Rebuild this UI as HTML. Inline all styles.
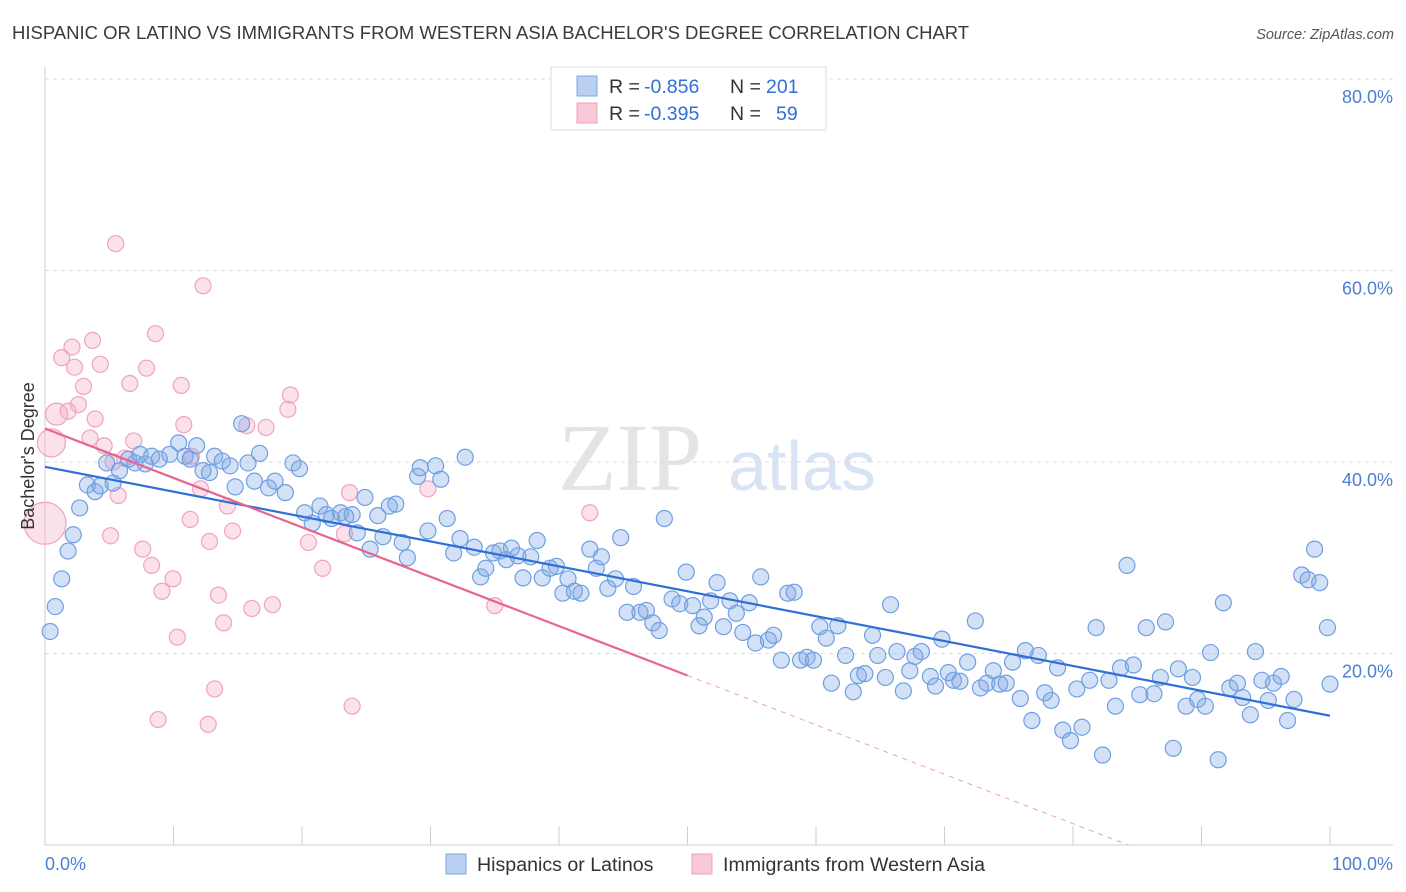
<!DOCTYPE html>
<html><head><meta charset="utf-8"><style>
body{margin:0;background:#fff;font-family:"Liberation Sans",sans-serif;}
svg{display:block}
</style></head><body>
<svg id="chart" width="1406" height="892" xmlns="http://www.w3.org/2000/svg">
<text x="12" y="39" font-size="18.5" fill="#3a3a3a">HISPANIC OR LATINO VS IMMIGRANTS FROM WESTERN ASIA BACHELOR'S DEGREE CORRELATION CHART</text>
<text x="1394" y="39" font-size="14.5" fill="#555" font-style="italic" text-anchor="end">Source: ZipAtlas.com</text>
<text x="630" y="490" font-size="96" fill="#e4e4e4" font-family="Liberation Serif,serif" text-anchor="middle">ZIP</text>
<text x="802" y="490" font-size="70" fill="#d8e4f4" text-anchor="middle">atlas</text>
<g id="grid"></g>
<g id="pinkpts"></g>
<g id="bluepts"></g>
<g id="lines"></g>
<text transform="translate(34,456) rotate(-90)" font-size="18" fill="#333" text-anchor="middle">Bachelor's Degree</text>
<text x="45" y="870" font-size="18" fill="#4a7fd6">0.0%</text>
<text x="1393" y="870" font-size="18" fill="#4a7fd6" text-anchor="end">100.0%</text>
<g>
<rect x="551" y="67" width="275" height="63" fill="#fff" stroke="#ddd"/>
<rect x="577" y="76" width="20" height="20" fill="#b9d0f2" stroke="#7ea6e3"/>
<rect x="577" y="103" width="20" height="20" fill="#f9c9d8" stroke="#f0a0bc"/>
<g font-size="19.5">
<text x="609" y="93" fill="#333">R =</text><text x="644" y="93" fill="#2f6fd6">-0.856</text>
<text x="730" y="93" fill="#333">N =</text><text x="766" y="93" fill="#2f6fd6">201</text></g>
<g font-size="19.5">
<text x="609" y="120" fill="#333">R =</text><text x="644" y="120" fill="#2f6fd6">-0.395</text>
<text x="730" y="120" fill="#333">N =</text><text x="776" y="120" fill="#2f6fd6">59</text></g>
</g>
<g>
<rect x="446" y="854" width="20" height="20" fill="#b9d0f2" stroke="#7ea6e3"/>
<text x="477" y="871" font-size="19.6" fill="#333">Hispanics or Latinos</text>
<rect x="692" y="854" width="20" height="20" fill="#f9c9d8" stroke="#f0a0bc"/>
<text x="723" y="871" font-size="19.6" fill="#333">Immigrants from Western Asia</text>
</g>
</svg>
<script>
const yTicks=[20,40,60,80];
const xTicks=[0,10,20,30,40,50,60,70,80,90,100];
const blueX=[0.4,0.8,1.3,1.8,2.2,2.7,3.3,3.9,4.3,4.8,5.3,5.8,6.5,7.0,7.4,7.8,8.3,8.9,9.7,10.4,10.9,11.3,11.8,12.3,12.8,13.2,13.8,14.4,14.8,15.3,15.8,16.3,16.7,17.4,17.9,18.7,19.3,19.8,20.2,20.8,21.4,21.9,22.3,23.0,23.4,23.9,24.3,24.9,25.3,25.9,26.3,26.8,27.3,27.8,28.2,29.0,29.2,29.8,30.4,30.8,31.3,31.8,32.3,32.7,33.4,33.9,34.3,34.9,35.4,35.9,36.3,36.8,37.2,37.8,38.3,38.7,39.3,39.8,40.3,40.7,41.2,41.7,42.4,42.9,43.3,43.8,44.4,44.8,45.3,45.8,46.3,46.8,47.3,47.8,48.2,48.8,49.4,49.9,50.4,50.9,51.3,51.8,52.3,52.8,53.3,53.8,54.3,54.8,55.3,55.7,56.3,56.7,57.3,57.8,58.3,58.8,59.3,59.8,60.3,60.8,61.2,61.7,62.3,62.9,63.3,63.8,64.4,64.8,65.4,65.8,66.3,66.8,67.3,67.7,68.2,68.9,69.3,69.8,70.3,70.7,71.2,71.8,72.4,72.8,73.3,73.8,74.3,74.8,75.3,75.9,76.3,76.8,77.3,77.8,78.3,78.8,79.2,79.8,80.3,80.7,81.3,81.8,82.3,82.8,83.3,83.7,84.2,84.7,85.2,85.7,86.3,86.8,87.2,87.8,88.2,88.8,89.3,89.7,90.3,90.7,91.3,91.7,92.2,92.8,93.2,93.8,94.2,94.7,95.2,95.6,96.2,96.7,97.2,97.8,98.3,98.8,99.2,99.8,100];
const blueY=[22.3,24.9,27.8,30.7,32.4,35.2,37.6,36.9,37.5,39.9,37.8,39.1,40.3,39.9,40.8,39.8,40.6,40.3,40.8,42.0,40.6,40.3,41.7,39.1,38.9,40.6,40.1,39.6,37.4,44.0,39.9,38.0,40.9,37.3,38.0,36.8,39.9,39.3,34.7,33.6,35.4,34.5,34.1,34.7,34.3,34.5,32.6,36.3,30.9,34.4,32.2,35.4,35.6,31.6,30.0,38.5,39.4,32.8,39.6,38.2,34.1,30.5,32.0,40.5,31.1,28.0,28.9,30.5,30.7,29.8,31.0,30.2,27.9,30.1,31.8,27.9,28.9,29.1,26.3,27.8,26.5,26.3,30.9,28.9,30.1,26.8,27.8,32.1,24.3,27.0,24.3,24.5,23.2,22.4,34.1,25.7,25.2,28.5,25.0,22.9,23.8,25.5,27.4,22.8,25.5,24.2,22.2,25.3,21.1,28.0,21.4,21.9,19.3,26.3,26.4,19.3,19.6,19.3,22.8,21.6,16.9,22.9,19.8,16.0,17.7,17.9,21.9,19.8,17.5,25.1,20.2,16.1,18.2,19.7,20.2,17.6,16.6,21.5,18.0,17.2,17.1,19.1,23.4,16.4,16.9,18.2,16.8,16.9,19.1,15.3,20.3,13.0,19.8,15.9,15.1,18.5,12.0,10.9,16.3,12.3,17.2,22.7,9.4,17.2,14.5,18.5,29.2,18.8,15.7,22.7,15.8,17.5,23.3,10.1,18.4,14.5,17.5,15.2,14.5,20.1,8.9,25.3,16.4,16.9,15.4,13.6,20.2,17.2,15.1,16.9,17.6,13.0,15.2,28.2,27.7,30.9,27.4,22.7,16.8];
const pinkX=[5.5,12.3,8.6,3.7,2.1,1.3,2.3,4.3,7.9,6.6,3.0,10.6,19.1,18.9,2.6,1.8,0.9,3.9,10.8,15.7,17.2,0.5,3.5,4.6,6.9,11.4,5.3,6.2,12.1,5.7,23.7,29.8,14.2,42.4,11.3,14.6,5.1,23.3,0,12.8,20.5,7.6,8.3,21.6,9.96,9.1,13.5,17.7,16.1,35.0,13.9,10.3,13.2,8.8,12.7,23.9];
const pinkY=[62.8,58.4,53.4,52.7,52.0,50.9,49.9,50.2,49.8,48.2,47.9,48.0,47.0,45.5,46.0,45.3,45.0,44.5,43.9,43.8,43.6,42.0,42.5,41.7,42.2,40.6,40.0,40.4,37.2,36.5,36.8,37.2,35.4,34.7,34.0,32.8,32.3,32.5,33.6,31.7,31.6,30.9,29.2,28.9,27.8,26.5,26.1,25.1,24.7,25.0,23.2,21.7,16.3,13.1,12.6,14.5];
const pinkR=[8,8,8,8,8,8,8,8,8,8,8,8,8,8,8,8,11,8,8,8,8,14,8,8,8,8,8,8,8,8,8,8,8,8,8,8,8,8,21,8,8,8,8,8,8,8,8,8,8,8,8,8,8,8,8,8];
const blueFit=[39.5,13.5];
const pinkFit=[43.5,17.7];
const NS="http://www.w3.org/2000/svg";
const X0=45,X1=1330,Y0=845,Y80=79;
const sx=v=>X0+(X1-X0)*v/100;
const sy=v=>Y0-(Y0-Y80)*v/80;
function mk(t,a,p){const e=document.createElementNS(NS,t);for(const k in a)e.setAttribute(k,a[k]);p.appendChild(e);return e;}
const grid=document.getElementById('grid');
yTicks.forEach(t=>{
 const l=mk('line',{x1:X0,x2:1393,y1:sy(t),y2:sy(t),stroke:'#dcdcdc','stroke-dasharray':'4,4'},grid);
 
 
 const tx=mk('text',{x:1393,y:sy(t)+24,'font-size':18,fill:'#4a7fd6','text-anchor':'end'},grid);
 tx.textContent=t.toFixed(1)+'%';
 
 
});
const ax=mk('line',{x1:X0,x2:X0,y1:67,y2:Y0,stroke:'#cfcfcf'},grid);


const bx=mk('line',{x1:X0,x2:1393,y1:Y0,y2:Y0,stroke:'#cfcfcf'},grid);


xTicks.forEach(t=>{
 const l=mk('line',{x1:sx(t),x2:sx(t),y1:Y0-19,y2:Y0,stroke:'#cfcfcf'},grid);
 
 
});
const pg=document.getElementById('pinkpts');
pinkX.forEach((x,i)=>{
 const c=mk('circle',{cx:sx(x),cy:sy(pinkY[i]),r:pinkR[i],fill:'rgba(244,170,195,0.35)',stroke:'#f0a3bd','stroke-width':1.2},pg);
 
 
});
const bg=document.getElementById('bluepts');
blueX.forEach((x,i)=>{
 const c=mk('circle',{cx:sx(x),cy:sy(blueY[i]),r:8,fill:'rgba(130,170,230,0.35)',stroke:'#6f9fe2','stroke-width':1.2},bg);
 
 
});
const lg=document.getElementById('lines');
const bl=mk('line',{x1:sx(0),y1:sy(blueFit[0]),x2:sx(100),y2:sy(blueFit[1]),stroke:'#2f6fd6','stroke-width':2.2},lg);


const pl=mk('line',{x1:sx(0),y1:sy(pinkFit[0]),x2:sx(50),y2:sy(pinkFit[1]),stroke:'#e8648f','stroke-width':2.2},lg);


const slope=(pinkFit[1]-pinkFit[0])/50;
const xz=-pinkFit[0]/slope;
const pd=mk('line',{x1:sx(50),y1:sy(pinkFit[1]),x2:sx(xz),y2:sy(0),stroke:'#f0a0bc','stroke-width':1,'stroke-dasharray':'5,5'},lg);


</script>
</body></html>
